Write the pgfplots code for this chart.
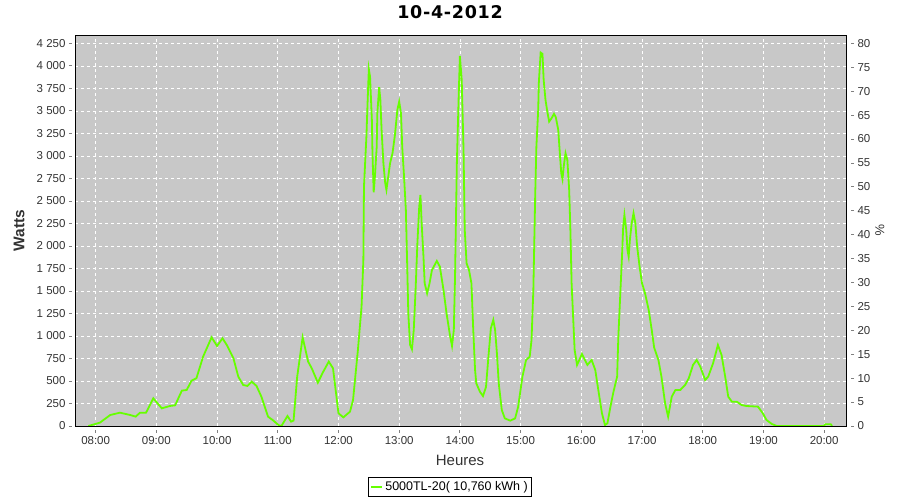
\documentclass[border=0pt]{standalone}
\usepackage{pgfplots}
\pgfplotsset{compat=1.18}
\usepackage{fontspec}
\setmainfont{Liberation Sans}
\newfontfamily\titlefont[LetterSpace=4]{DejaVu Sans}
\definecolor{plotbg}{RGB}{200,200,200}
\definecolor{linegreen}{RGB}{102,255,0}
\definecolor{axgrey}{RGB}{128,128,128}
\pgfplotstableread{
h w
7.88 0
8.07 37
8.24 122
8.40 148
8.57 122
8.66 104
8.73 148
8.83 148
8.95 307
9.09 196
9.22 222
9.31 230
9.42 393
9.50 400
9.58 504
9.66 530
9.77 770
9.91 985
10.00 889
10.09 974
10.16 900
10.27 752
10.35 548
10.43 456
10.50 445
10.57 493
10.65 445
10.73 326
10.84 104
10.93 59
11.01 11
11.06 0
11.16 111
11.22 48
11.26 60
11.32 548
11.41 985
11.50 715
11.56 641
11.66 482
11.75 604
11.84 715
11.91 641
12.00 141
12.08 96
12.19 159
12.24 289
12.32 844
12.38 1326
12.41 1844
12.42 2659
12.46 3214
12.48 3603
12.50 3963
12.52 3881
12.55 3400
12.56 3030
12.58 2596
12.60 2770
12.63 3103
12.64 3474
12.67 3763
12.69 3622
12.71 3289
12.74 2919
12.77 2697
12.79 2622
12.82 2770
12.85 2919
12.89 3030
12.93 3233
12.97 3511
13.00 3603
13.03 3474
13.05 3103
13.08 2770
13.11 2400
13.13 1844
13.15 1252
13.18 900
13.21 852
13.24 1067
13.27 1511
13.30 2030
13.33 2437
13.35 2567
13.37 2252
13.40 1881
13.42 1585
13.46 1474
13.50 1585
13.54 1733
13.62 1833
13.67 1770
13.73 1511
13.78 1252
13.84 992
13.87 889
13.90 1067
13.92 1659
13.95 2919
13.98 3659
14.00 4111
14.03 3844
14.06 3067
14.08 2178
14.11 1807
14.15 1733
14.19 1585
14.22 1067
14.25 622
14.27 474
14.33 381
14.38 333
14.43 433
14.47 770
14.51 1085
14.55 1178
14.58 1067
14.61 807
14.64 474
14.69 178
14.74 85
14.83 59
14.91 85
14.96 215
15.03 548
15.09 733
15.15 770
15.18 956
15.21 1511
15.24 2548
15.26 3103
15.29 3511
15.30 3807
15.33 4148
15.36 4133
15.38 3844
15.41 3622
15.44 3492
15.47 3381
15.51 3418
15.55 3467
15.58 3430
15.62 3289
15.65 2992
15.67 2807
15.69 2741
15.71 2881
15.74 3030
15.77 2955
15.80 2622
15.82 2178
15.84 1585
15.87 1141
15.89 844
15.93 678
15.98 752
16.01 800
16.06 733
16.10 678
16.17 733
16.23 622
16.28 400
16.34 141
16.39 11
16.43 30
16.48 215
16.53 381
16.59 548
16.61 992
16.64 1437
16.67 1881
16.69 2214
16.71 2344
16.74 2178
16.76 1955
16.78 1881
16.80 2067
16.83 2252
16.86 2363
16.89 2252
16.92 1992
16.96 1770
17.00 1585
17.05 1474
17.11 1289
17.16 1067
17.20 870
17.27 733
17.32 548
17.38 252
17.43 104
17.49 326
17.55 400
17.63 400
17.71 456
17.77 530
17.84 678
17.90 733
17.96 659
18.04 511
18.09 548
18.17 696
18.25 900
18.31 789
18.37 548
18.42 326
18.48 270
18.56 270
18.64 233
18.72 222
18.91 215
18.99 141
19.05 67
19.14 22
19.22 0
19.99 0
20.02 19
20.11 19
20.13 0
}\powerdata
\begin{document}
\begin{tikzpicture}
\path[use as bounding box] (-75pt,-74pt) rectangle (825pt,426pt);
\begin{axis}[
  at={(0,0)}, anchor=south west,
  scale only axis, width=771pt, height=391pt,
  xmin=7.66, xmax=20.36, ymin=0, ymax=4343,
  axis background/.style={fill=plotbg},
  axis line style={black, line width=0.8pt},
  grid=major,
  major grid style={white, dashed, line width=0.6pt},
  xtick={8,9,10,11,12,13,14,15,16,17,18,19,20},
  xticklabels={08:00,09:00,10:00,11:00,12:00,13:00,14:00,15:00,16:00,17:00,18:00,19:00,20:00},
  ytick={0,250,...,4250},
  scaled ticks=false,
  /pgf/number format/.cd, assume math mode=true, 1000 sep={\ },
  /pgfplots/.cd,
  tick align=outside, major tick length=3pt,
  xtick pos=bottom, ytick pos=left,
  xtick style={axgrey, line width=0.8pt, yshift=-4pt},
  ytick style={axgrey, line width=0.8pt, xshift=-3pt},
  tick label style={font=\fontsize{11.5pt}{13pt}\selectfont, text=black!80},
  xticklabel style={yshift=-4pt},
  yticklabel style={xshift=-3pt},
  xlabel={Heures}, ylabel={\textbf{Watts}},
  label style={font=\fontsize{15pt}{17pt}\selectfont, text=black!80},
  xlabel style={at={(axis description cs:0.4994,-0.087)}, anchor=center},
  ylabel style={at={(axis description cs:-0.0726,0.5)}, anchor=center, font=\fontsize{15.5pt}{17pt}\selectfont},
  title={\titlefont\bfseries 10-4-2012},
  title style={at={(axis description cs:0.4864,1.042)}, anchor=center, font=\fontsize{17.5pt}{19pt}\selectfont},
  legend style={at={(axis description cs:0.4864,-0.156)}, anchor=center, draw=black, line width=0.8pt, fill=white,
    font=\fontsize{12.5pt}{14pt}\selectfont, inner xsep=2pt, inner ysep=2pt},
  legend image code/.code={\draw[line width=2pt] (0pt,0pt) -- (11pt,0pt);},
]
\addplot[linegreen, line width=1.8pt] table[x=h, y=w] {\powerdata};
\addlegendentry{5000TL-20( 10,760 kWh )}
\draw[axgrey, line width=0.8pt] ([xshift=-3pt]rel axis cs:0,0) -- ([xshift=-3pt]rel axis cs:0,1);
\draw[axgrey, line width=0.8pt] ([yshift=-4pt]rel axis cs:0,0) -- ([yshift=-4pt]rel axis cs:1,0);
\end{axis}
\begin{axis}[
  at={(0,0)}, anchor=south west,
  scale only axis, width=771pt, height=391pt,
  xmin=7.66, xmax=20.36, ymin=0, ymax=81.75,
  hide x axis,
  axis y line*=right,
  axis line style={draw=none},
  ytick={0,5,...,80},
  tick align=outside, major tick length=3pt,
  ytick style={axgrey, line width=0.8pt, xshift=5pt},
  /pgf/number format/assume math mode=true,
  tick label style={font=\fontsize{11.5pt}{13pt}\selectfont, text=black!80},
  yticklabel style={xshift=5pt},
  ylabel={\%},
  ylabel style={at={(axis description cs:1.044,0.5)}, anchor=center, rotate=180, font=\fontsize{13pt}{15pt}\selectfont, text=black!80},
]
\draw[axgrey, line width=0.8pt] ([xshift=5pt]rel axis cs:1,0) -- ([xshift=5pt]rel axis cs:1,1);
\end{axis}
\end{tikzpicture}
\end{document}
